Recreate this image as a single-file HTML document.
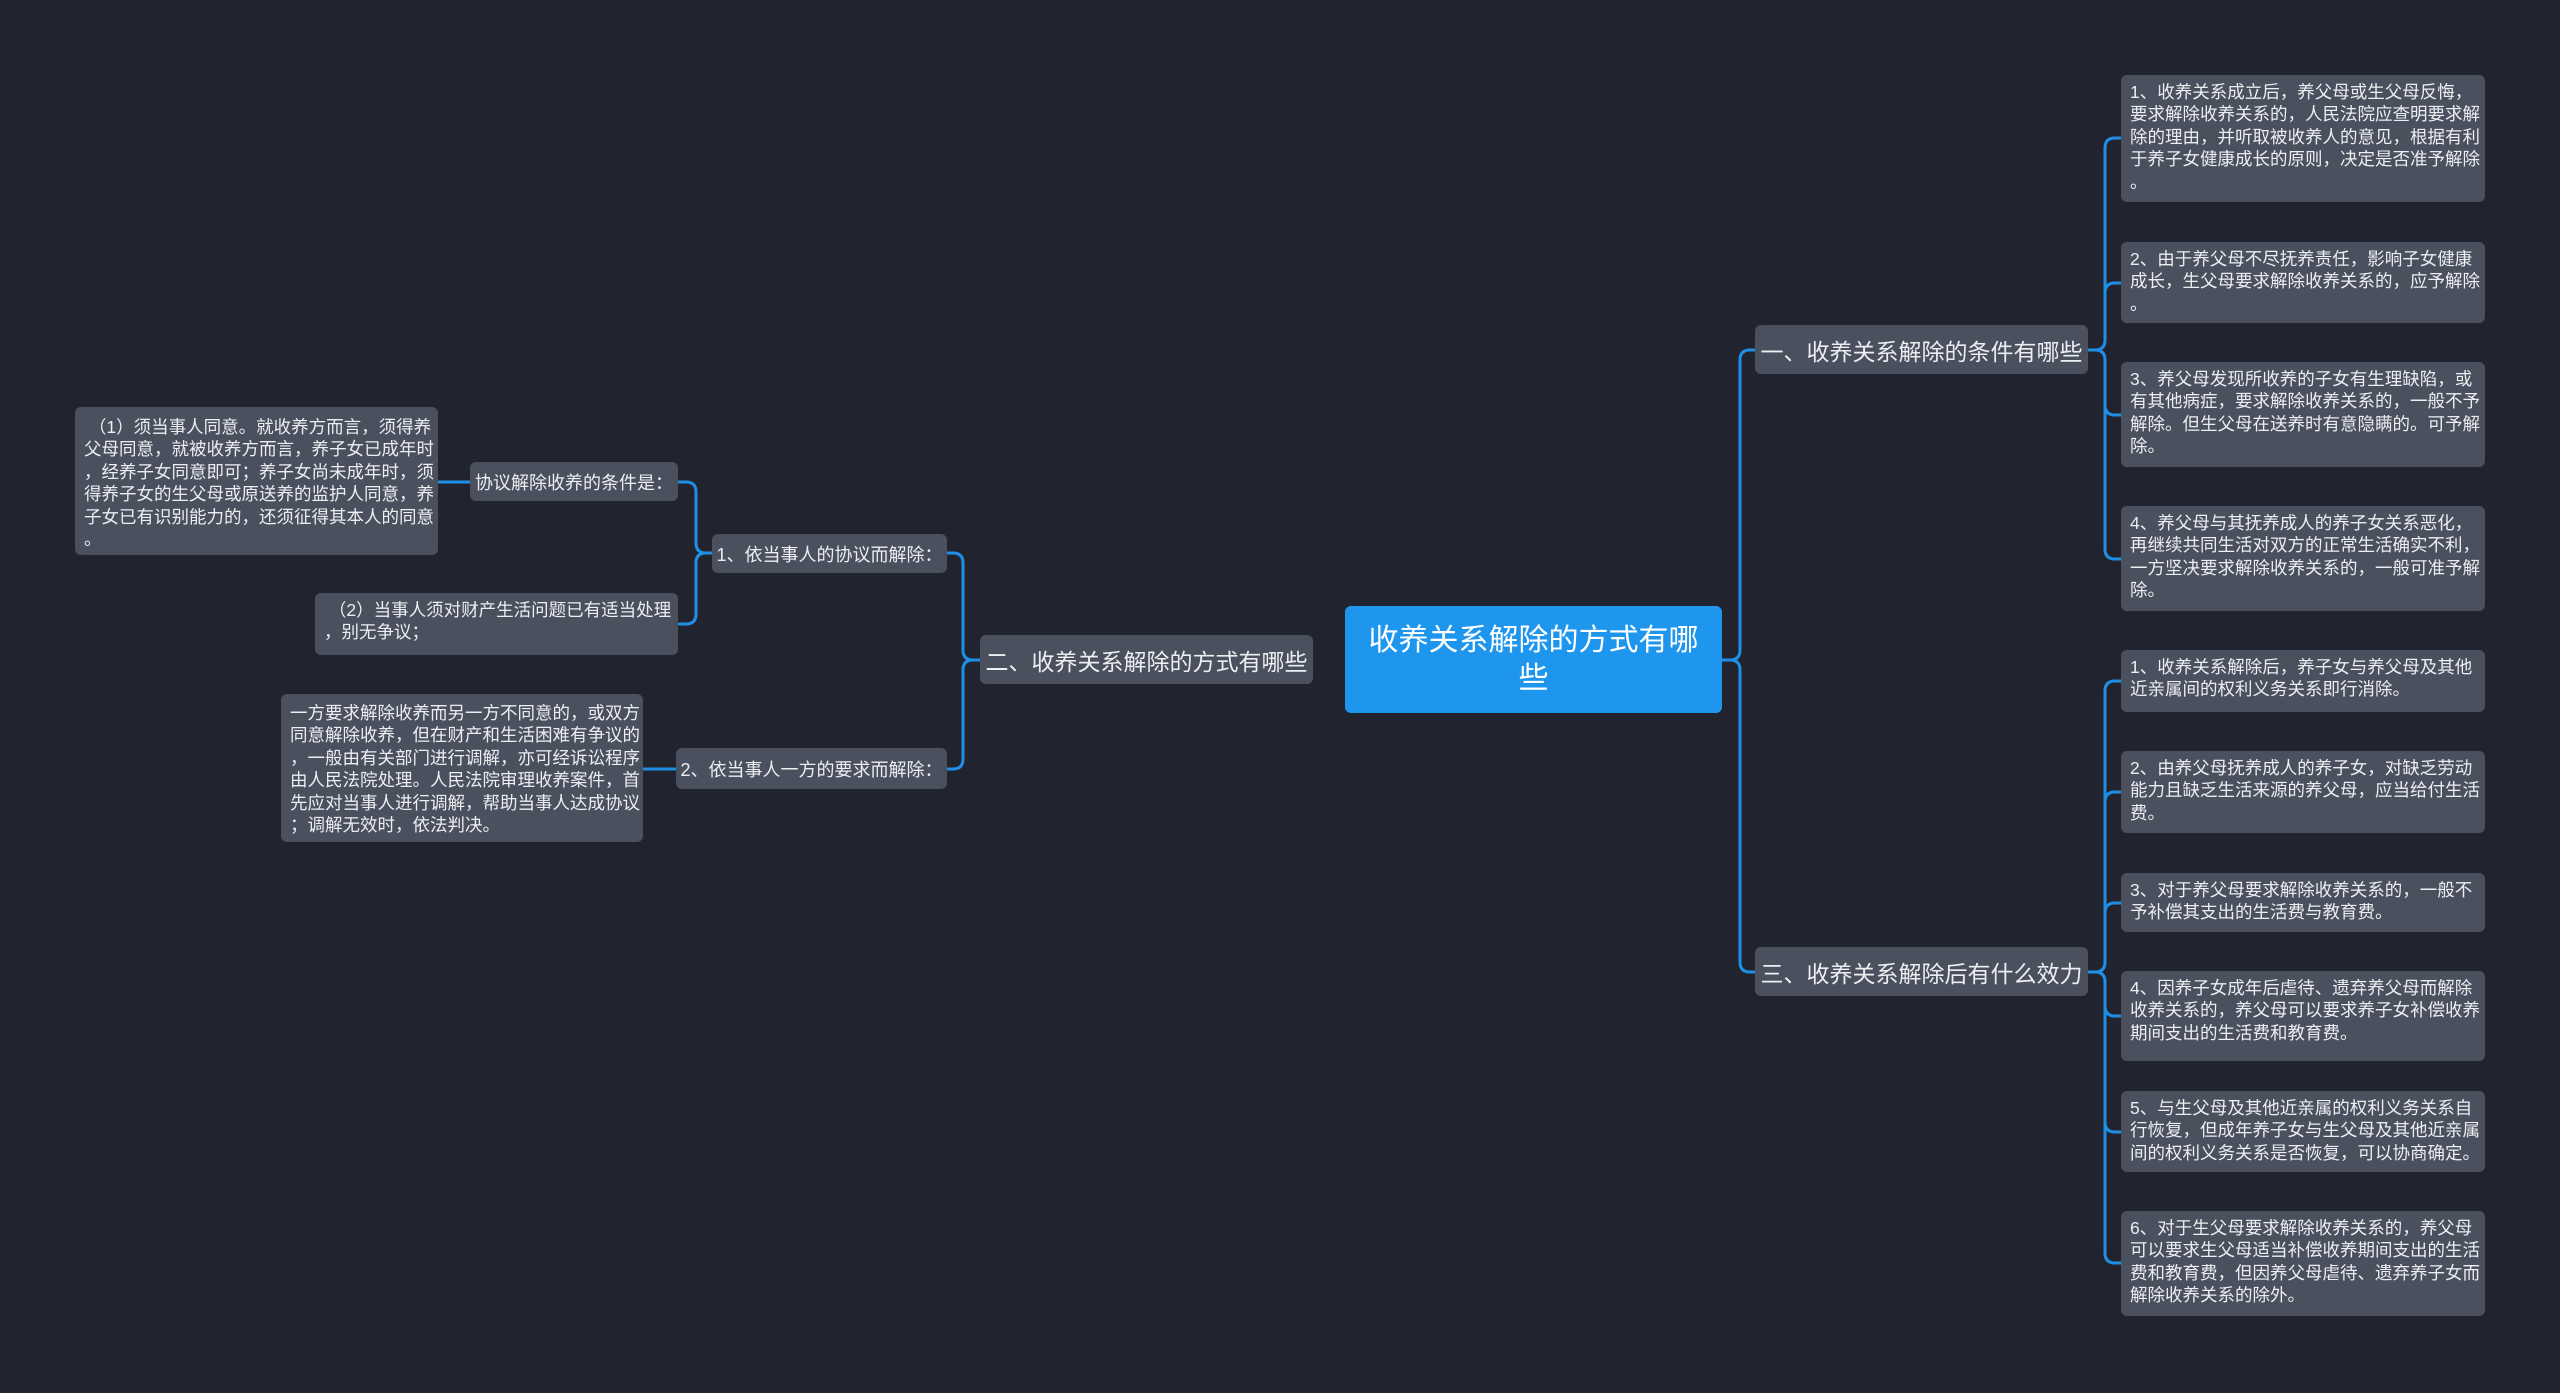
<!DOCTYPE html>
<html><head><meta charset="utf-8"><style>
html,body{margin:0;padding:0;background:#21242f;}
body{width:2560px;height:1393px;position:relative;overflow:hidden;font-family:"Liberation Sans","Noto Sans CJK SC",sans-serif;}
.b{position:absolute;background:#4a505e;border-radius:6px;color:#eceef2;box-sizing:border-box;white-space:nowrap;}
.leaf{font-size:17.5px;line-height:22.4px;padding:6px 9px;}
.mid{font-size:18px;display:flex;align-items:center;justify-content:center;}
.l1{font-size:23px;display:flex;align-items:center;justify-content:center;}
.c{background:#1f96ee;color:#fff;font-size:30px;line-height:38px;text-align:center;display:flex;align-items:center;justify-content:center;border-radius:6px;}
svg{position:absolute;left:0;top:0;}
</style></head><body>
<svg width="2560" height="1393" id="s"></svg>

<div class="b c" style="left:1345px;top:606px;width:377px;height:107px;">收养关系解除的方式有哪<br>些</div>

<div class="b l1" style="left:1755px;top:325px;width:333px;height:49px;">一、收养关系解除的条件有哪些</div>
<div class="b l1" style="left:1755px;top:947px;width:333px;height:49px;">三、收养关系解除后有什么效力</div>
<div class="b l1" style="left:980px;top:635px;width:333px;height:49px;">二、收养关系解除的方式有哪些</div>

<div class="b leaf" style="left:2121px;top:75px;width:364px;height:127px;">1、收养关系成立后，养父母或生父母反悔，<br>要求解除收养关系的，人民法院应查明要求解<br>除的理由，并听取被收养人的意见，根据有利<br>于养子女健康成长的原则，决定是否准予解除<br>。</div>
<div class="b leaf" style="left:2121px;top:242px;width:364px;height:81px;">2、由于养父母不尽抚养责任，影响子女健康<br>成长，生父母要求解除收养关系的，应予解除<br>。</div>
<div class="b leaf" style="left:2121px;top:362px;width:364px;height:105px;">3、养父母发现所收养的子女有生理缺陷，或<br>有其他病症，要求解除收养关系的，一般不予<br>解除。但生父母在送养时有意隐瞒的。可予解<br>除。</div>
<div class="b leaf" style="left:2121px;top:506px;width:364px;height:105px;">4、养父母与其抚养成人的养子女关系恶化，<br>再继续共同生活对双方的正常生活确实不利，<br>一方坚决要求解除收养关系的，一般可准予解<br>除。</div>

<div class="b leaf" style="left:2121px;top:650px;width:364px;height:62px;">1、收养关系解除后，养子女与养父母及其他<br>近亲属间的权利义务关系即行消除。</div>
<div class="b leaf" style="left:2121px;top:751px;width:364px;height:82px;">2、由养父母抚养成人的养子女，对缺乏劳动<br>能力且缺乏生活来源的养父母，应当给付生活<br>费。</div>
<div class="b leaf" style="left:2121px;top:873px;width:364px;height:59px;">3、对于养父母要求解除收养关系的，一般不<br>予补偿其支出的生活费与教育费。</div>
<div class="b leaf" style="left:2121px;top:971px;width:364px;height:90px;">4、因养子女成年后虐待、遗弃养父母而解除<br>收养关系的，养父母可以要求养子女补偿收养<br>期间支出的生活费和教育费。</div>
<div class="b leaf" style="left:2121px;top:1091px;width:364px;height:81px;">5、与生父母及其他近亲属的权利义务关系自<br>行恢复，但成年养子女与生父母及其他近亲属<br>间的权利义务关系是否恢复，可以协商确定。</div>
<div class="b leaf" style="left:2121px;top:1211px;width:364px;height:105px;">6、对于生父母要求解除收养关系的，养父母<br>可以要求生父母适当补偿收养期间支出的生活<br>费和教育费，但因养父母虐待、遗弃养子女而<br>解除收养关系的除外。</div>

<div class="b mid" style="left:712px;top:534px;width:235px;height:39px;">1、依当事人的协议而解除：</div>
<div class="b mid" style="left:676px;top:748px;width:271px;height:41px;">2、依当事人一方的要求而解除：</div>
<div class="b mid" style="left:470px;top:462px;width:208px;height:39px;">协议解除收养的条件是：</div>

<div class="b leaf" style="left:75px;top:407px;width:363px;height:148px;padding-top:9px;">&nbsp;（1）须当事人同意。就收养方而言，须得养<br>父母同意，就被收养方而言，养子女已成年时<br>，经养子女同意即可；养子女尚未成年时，须<br>得养子女的生父母或原送养的监护人同意，养<br>子女已有识别能力的，还须征得其本人的同意<br>。</div>
<div class="b leaf" style="left:315px;top:593px;width:363px;height:62px;">&nbsp;（2）当事人须对财产生活问题已有适当处理<br>，别无争议；</div>
<div class="b leaf" style="left:281px;top:694px;width:362px;height:148px;padding-top:8px;">一方要求解除收养而另一方不同意的，或双方<br>同意解除收养，但在财产和生活困难有争议的<br>，一般由有关部门进行调解，亦可经诉讼程序<br>由人民法院处理。人民法院审理收养案件，首<br>先应对当事人进行调解，帮助当事人达成协议<br>；调解无效时，依法判决。</div>

<script>
var s=document.getElementById('s'),d='';
function e(px,py,mx,cx,cy){var r=Math.min(10,Math.abs(cy-py)/2);var dir=cx>px?1:-1;var vy=cy>py?1:-1;
 if(Math.abs(cy-py)<1){d+='M'+px+','+py+'H'+cx;return;}
 d+='M'+px+','+py+'H'+(mx-dir*r)+'Q'+mx+','+py+' '+mx+','+(py+vy*r)+'V'+(cy-vy*r)+'Q'+mx+','+cy+' '+(mx+dir*r)+','+cy+'H'+cx;}
e(1722,660,1740,1755,350);e(1722,660,1740,1755,972);
[138,283,415,559].forEach(function(y){e(2088,350,2105,2121,y)});
[681,792,903,1016,1132,1263].forEach(function(y){e(2088,972,2105,2121,y)});
e(1313,660,963,947,553);e(1313,660,963,947,769);
e(980,660,963,947,553);e(980,660,963,947,769);
e(712,553,696,678,482);e(712,553,696,678,624);
e(470,482,455,438,482);
e(676,769,660,643,769);
s.innerHTML='<path d="'+d+'" fill="none" stroke="#1f8fe6" stroke-width="3"/>';
</script>
</body></html>
